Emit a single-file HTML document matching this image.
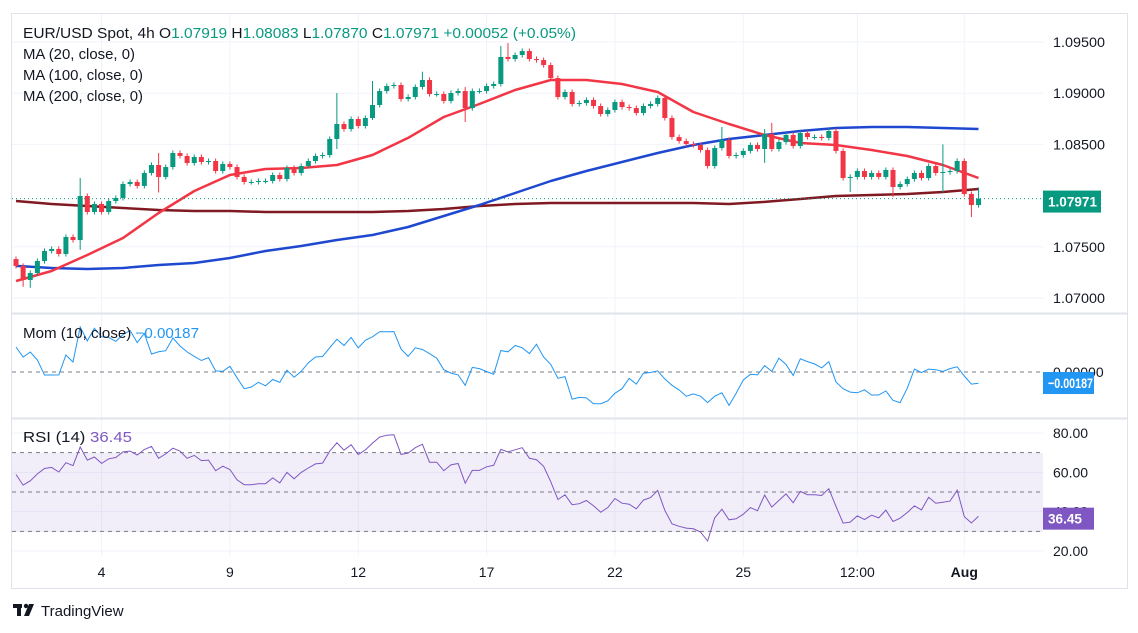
<!DOCTYPE html>
<html><head><meta charset="utf-8">
<style>
html,body{margin:0;padding:0;background:#fff;}
svg{display:block;font-family:"Liberation Sans",sans-serif;}
</style></head>
<body>
<svg id="chart" width="1138" height="633" viewBox="0 0 1138 633" xmlns="http://www.w3.org/2000/svg">
  <rect x="0" y="0" width="1138" height="633" fill="#ffffff"/>
  <g id="grid"></g>
  <rect x="12" y="453" width="1031" height="79" fill="#7e57c2" fill-opacity="0.1"/>
  <g id="levels"></g>
  <g id="ma"></g>
  <g id="candles"></g>
  <g id="ind"></g>
  <g id="axes"></g>
  <rect x="11.5" y="13.5" width="1116" height="575" fill="none" stroke="#e0e3eb"/>
  <line x1="12" y1="313.5" x2="1127" y2="313.5" stroke="#e0e3eb" stroke-width="2"/>
  <line x1="12" y1="418.5" x2="1127" y2="418.5" stroke="#e0e3eb" stroke-width="2"/>

  <g font-size="14.5" fill="#131722">
    <text x="23" y="38" textLength="553" lengthAdjust="spacingAndGlyphs">EUR/USD Spot, 4h  O<tspan fill="#089981">1.07919</tspan>  H<tspan fill="#089981">1.08083</tspan>  L<tspan fill="#089981">1.07870</tspan>  C<tspan fill="#089981">1.07971</tspan>  <tspan fill="#089981">+0.00052 (+0.05%)</tspan></text>
    <text x="23" y="59" textLength="112" lengthAdjust="spacingAndGlyphs">MA (20, close, 0)</text>
    <text x="23" y="80" textLength="120" lengthAdjust="spacingAndGlyphs">MA (100, close, 0)</text>
    <text x="23" y="101" textLength="120" lengthAdjust="spacingAndGlyphs">MA (200, close, 0)</text>
    <text x="23" y="338" textLength="176" lengthAdjust="spacingAndGlyphs">Mom (10, close)  <tspan fill="#2196f3">−0.00187</tspan></text>
    <text x="23" y="442" textLength="109" lengthAdjust="spacingAndGlyphs">RSI (14)  <tspan fill="#7e57c2">36.45</tspan></text>
  </g>

  <g>
    <rect x="13" y="604" width="9" height="4" fill="#131722"/>
    <rect x="17" y="604" width="4" height="12" fill="#131722"/>
    <circle cx="26" cy="606" r="2.2" fill="#131722"/>
    <polygon points="29,604 34,604 29,616 24,616" fill="#131722"/>
    <text x="41" y="616" font-size="15" fill="#131722">TradingView</text>
  </g>
</svg>
<script>
const closes = [1.07313,1.07176,1.07244,1.07361,1.07459,1.07479,1.07430,1.07596,1.07566,1.07996,1.07840,1.07918,1.07840,1.07947,1.07977,1.08113,1.08133,1.08094,1.08221,1.08299,1.08182,1.08279,1.08416,1.08387,1.08318,1.08377,1.08328,1.08338,1.08240,1.08309,1.08279,1.08182,1.08133,1.08133,1.08143,
1.08143,1.08201,1.08162,1.08270,1.08221,1.08289,1.08338,1.08387,1.08396,1.08553,1.08699,1.08650,1.08748,1.08680,1.08758,1.08885,1.09021,1.09070,1.09080,1.08943,1.08963,1.09061,1.09129,1.08992,1.08992,1.08924,1.09002,1.09021,1.08855,1.09021,1.09021,1.09070,1.09090,1.09354,
1.09334,1.09373,1.09412,1.09334,1.09324,1.09275,1.09148,1.08963,1.09012,1.08895,1.08904,1.08934,1.08875,1.08797,1.08836,1.08914,1.08865,1.08855,1.08807,1.08875,1.08895,1.08953,1.08758,1.08572,1.08533,1.08504,1.08494,1.08445,1.08289,1.08465,1.08543,1.08387,1.08396,1.08436,
1.08494,1.08455,1.08602,1.08455,1.08523,1.08592,1.08484,1.08611,1.08572,1.08572,1.08563,1.08631,1.08436,1.08172,1.08182,1.08240,1.08182,1.08221,1.08182,1.08250,1.08084,1.08113,1.08162,1.08221,1.08172,1.08289,1.08221,1.08230,1.08240,1.08338,1.08016,1.07908,1.07971];
const firstOpen = 1.07380;
const priorCloses = [1.06889,1.06922,1.06905,1.07158,1.07509,1.07529,1.07480,1.07308,1.07396,1.07233];
const highOverrides = {9:1.08172,20:1.08416,45:1.09002,50:1.09119,57:1.0921,63:1.0906,68:1.09461,69:1.0949,99:1.0867,105:1.0865,106:1.0871,130:1.0850,135:1.0808};
const lowOverrides = {1:1.0711,2:1.0710,9:1.0747,20:1.0803,45:1.08455,50:1.08738,63:1.08719,105:1.0832,117:1.08035,123:1.07986,130:1.0803,134:1.0779};
const maIdx = [0,5,10,15,20,25,30,35,40,45,50,55,60,65,70,75,80,85,90,95,100,105,110,115,120,125,130,135];
const ma20 = [1.07166,1.07264,1.07420,1.07586,1.07830,1.08045,1.08201,1.08260,1.08270,1.08299,1.08396,1.08563,1.08768,1.08895,1.09031,1.09129,1.09129,1.09090,1.09012,1.08816,1.08699,1.08592,1.08514,1.08494,1.08445,1.08387,1.08299,1.08172];
const ma100 = [1.07313,1.07293,1.07283,1.07293,1.07322,1.07342,1.07391,1.07459,1.07508,1.07566,1.07615,1.07693,1.07801,1.07908,1.08025,1.08143,1.08240,1.08328,1.08416,1.08494,1.08553,1.08592,1.08631,1.08660,1.08670,1.08670,1.08660,1.08650];
const ma200 = [1.07947,1.07918,1.07898,1.07879,1.07859,1.07850,1.07850,1.07840,1.07840,1.07840,1.07840,1.07850,1.07869,1.07898,1.07918,1.07928,1.07928,1.07928,1.07928,1.07928,1.07918,1.07938,1.07967,1.07996,1.08006,1.08016,1.08035,1.08064];
const priceTicks = [1.095,1.09,1.085,1.075,1.07];
const rsiTicks = [80,60,40,20];
const timeIdx = [12,30,48,66,84,102,118,133];
const timeLabels = ["4","9","12","17","22","25","12:00","Aug"];
const lastClose = 1.07971;
const momLast = -0.00187;
const rsiLast = 36.45;
const rsiSeedGain = 0.00045, rsiSeedLoss = 0.00040;

const NS = "http://www.w3.org/2000/svg";
const xOf = i => 16 + i * 7.13;
const yP = p => 42 + (1.095 - p) * 10240;
const yM = v => 372 - v * 5900;
const yR = v => 433 + (80 - v) * 1.967;
const PLOT_R = 1043;
function mk(tag, attrs, parent) {
  const e = document.createElementNS(NS, tag);
  for (const k in attrs) e.setAttribute(k, attrs[k]);
  parent.appendChild(e);
  return e;
}
const grid = document.getElementById('grid');
const axes = document.getElementById('axes');
priceTicks.forEach(p => {
  const l = mk('line', {x1:12, x2:PLOT_R, y1:yP(p), y2:yP(p), stroke:'#f0f3fa'}, grid);
  
  
  const t = mk('text', {x:1053, y:yP(p)+5, 'font-size':14, fill:'#131722', textLength:52, lengthAdjust:'spacingAndGlyphs'}, axes);
  t.textContent = p.toFixed(5);
  
  
});
rsiTicks.forEach(v => {
  const l = mk('line', {x1:12, x2:PLOT_R, y1:yR(v), y2:yR(v), stroke:'#f0f3fa'}, grid);
  
  
  const t = mk('text', {x:1053, y:yR(v)+5, 'font-size':14, fill:'#131722'}, axes);
  t.textContent = v.toFixed(2);
  
  
});
timeIdx.forEach((i, k) => {
  const l = mk('line', {x1:xOf(i), x2:xOf(i), y1:14, y2:556, stroke:'#f0f3fa'}, grid);
  
  
  const t = mk('text', {x:xOf(i), y:577, 'font-size':14, fill:'#131722', 'text-anchor':'middle', 'font-weight': timeLabels[k]==='Aug'?'bold':'normal'}, axes);
  t.textContent = timeLabels[k];
  
  
});
const lv = document.getElementById('levels');
[[yM(0),'mom-zero-line'],[yR(70),'rsi-upper-line'],[yR(50),'rsi-mid-line'],[yR(30),'rsi-lower-line']].forEach(([y,n]) => {
  const l = mk('line', {x1:12, x2:PLOT_R, y1:y, y2:y, stroke:'#787b86', 'stroke-dasharray':'4 4'}, lv);
  
  
});
const maG = document.getElementById('ma');
[[ma200,'#801922','ma200-line'],[ma100,'#1f48d0','ma100-line'],[ma20,'#f23645','ma20-line']].forEach(([arr,c,n]) => {
  const pts = maIdx.map((i,k) => xOf(i).toFixed(1)+','+yP(arr[k]).toFixed(1)).join(' ');
  const pl = mk('polyline', {points:pts, fill:'none', stroke:c, 'stroke-width':2.5, 'stroke-linejoin':'round'}, maG);
  
  
});
const cg = document.getElementById('candles');
closes.forEach((c, i) => {
  const o = i === 0 ? firstOpen : closes[i-1];
  const up = c >= o;
  const col = up ? '#089981' : '#f23645';
  const hi = highOverrides[i] !== undefined ? highOverrides[i] : Math.max(o,c) + 0.00025;
  const lo = lowOverrides[i] !== undefined ? lowOverrides[i] : Math.min(o,c) - 0.00025;
  const x = xOf(i);
  const g = mk('g', {}, cg);
  
  
  mk('line', {x1:x, x2:x, y1:yP(hi), y2:yP(lo), stroke:col, 'stroke-width':1}, g);
  const top = yP(Math.max(o,c)), bot = yP(Math.min(o,c));
  mk('rect', {x:x-2.5, y:top, width:5, height:Math.max(1, bot-top), fill:col}, g);
});
const pl = mk('line', {x1:12, x2:PLOT_R, y1:yP(lastClose), y2:yP(lastClose), stroke:'#089981', 'stroke-dasharray':'1 3'}, axes);


const all = priorCloses.concat(closes);
const P = priorCloses.length;
const mom = closes.map((c,i) => c - all[i + P - 10]);
let ag = rsiSeedGain, al = rsiSeedLoss;
const rsiArr = [];
for (let j = 1; j < all.length; j++) {
  const d = all[j] - all[j-1];
  ag = (ag * 13 + Math.max(d,0)) / 14;
  al = (al * 13 + Math.max(-d,0)) / 14;
  if (j >= P) rsiArr.push(100 - 100 / (1 + ag / al));
}
const ind = document.getElementById('ind');
const mp = mk('polyline', {points: mom.map((v,i)=>xOf(i).toFixed(1)+','+Math.max(318,Math.min(414,yM(v))).toFixed(1)).join(' '), fill:'none', stroke:'#2196f3', 'stroke-width':1}, ind);


const rp = mk('polyline', {points: rsiArr.map((v,i)=>xOf(i).toFixed(1)+','+yR(v).toFixed(1)).join(' '), fill:'none', stroke:'#7e57c2', 'stroke-width':1}, ind);


const zl = mk('text', {x:1053, y:yM(0)+5, 'font-size':14, fill:'#131722'}, axes);
zl.textContent = '0.00000';


function badge(y, w, col, txt, name, tw) {
  const g = mk('g', {}, axes);
  
  
  mk('rect', {x:1043, y:y-11, width:w, height:22, fill:col}, g);
  const t = mk('text', {x:1048, y:y+5, 'font-size':14, 'font-weight':'bold', fill:'#fff', textLength:tw, lengthAdjust:'spacingAndGlyphs'}, g);
  t.textContent = txt;
}
badge(yP(lastClose)+3, 58, '#089981', lastClose.toFixed(5), 'last-price-badge', 49);
badge(yM(momLast), 51, '#2196f3', '−' + Math.abs(momLast).toFixed(5), 'momentum-badge', 45);
badge(yR(rsiLast), 51, '#7e57c2', rsiLast.toFixed(2), 'rsi-badge', 34);
</script>
</body></html>
